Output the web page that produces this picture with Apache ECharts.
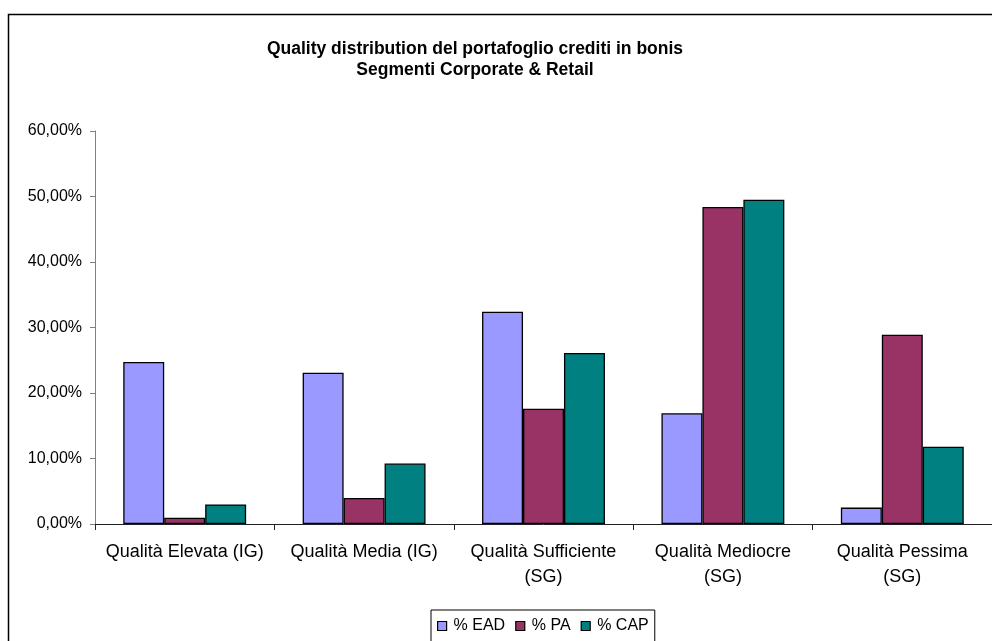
<!DOCTYPE html>
<html>
<head>
<meta charset="utf-8">
<script src="https://cdn.jsdelivr.net/npm/echarts@6/dist/echarts.min.js"></script>
<style>
  html, body { margin: 0; padding: 0; background: #fff; }
  #chart { width: 992px; height: 641px; }
</style>
</head>
<body>
<div id="chart"></div>
<script>
// categorie (asse x)
var categories = [
  'Qualità Elevata (IG)',
  'Qualità Media (IG)',
  'Qualità Sufficiente\n(SG)',
  'Qualità Mediocre\n(SG)',
  'Qualità Pessima\n(SG)'
];
var seriesNames = ['% EAD', '% PA', '% CAP'];
// valori in percentuale
var ead = [24.74, 23.1, 32.4, 16.9, 2.5];
var pa  = [0.96, 3.96, 17.6, 48.4, 28.9];
var cap = [2.99, 9.24, 26.1, 49.5, 11.8];
var yTicks = [0, 10, 20, 30, 40, 50, 60];

var colors = ['#9999FF', '#993366', '#008080'];
var font = 'Liberation Sans, Arial, sans-serif';

var chart = echarts.init(document.getElementById('chart'));

function pct(v) {
  return v.toFixed(2).replace('.', ',') + '%';
}

var option = {
  animation: false,
  backgroundColor: '#fff',
  title: {
    text: 'Quality distribution del portafoglio crediti in bonis\nSegmenti Corporate & Retail',
    left: 470,
    top: 34,
    textAlign: 'center',
    textStyle: {
      fontFamily: font,
      fontSize: 17.5,
      fontWeight: 'bold',
      color: '#000',
      lineHeight: 21
    }
  },
  graphic: [{
    type: 'rect',
    shape: { x: 8.5, y: 14.5, width: 1200, height: 800 },
    style: { fill: 'none', stroke: '#000', lineWidth: 1.5 },
    silent: true
  }],
  legend: {
    data: seriesNames,
    left: 431,
    top: 610,
    padding: [8, 6, 10, 6],
    borderColor: '#000',
    borderWidth: 1,
    itemWidth: 9,
    itemHeight: 9,
    itemGap: 10,
    icon: 'rect',
    itemStyle: { borderColor: '#000', borderWidth: 1.2 },
    textStyle: { fontFamily: font, fontSize: 16, color: '#000', padding: [0, 0, 0, 2] }
  },
  grid: {
    left: 95,
    top: 131,
    width: 897,
    bottom: 117,
    containLabel: false
  },
  xAxis: {
    type: 'category',
    data: categories,
    axisLine: { lineStyle: { color: '#222', width: 1 } },
    axisTick: { show: true, length: 6, alignWithLabel: false, lineStyle: { color: '#222' } },
    axisLabel: {
      interval: 0,
      margin: 16,
      fontFamily: font,
      fontSize: 18,
      lineHeight: 25,
      color: '#000'
    },
    splitLine: { show: false }
  },
  yAxis: {
    type: 'value',
    min: yTicks[0],
    max: yTicks[yTicks.length - 1],
    interval: 10,
    axisLine: { show: true, lineStyle: { color: '#808080', width: 1 } },
    axisTick: { show: true, length: 5, lineStyle: { color: '#808080' } },
    axisLabel: {
      margin: 13,
      fontFamily: font,
      fontSize: 16,
      color: '#000',
      formatter: pct
    },
    splitLine: { show: false }
  },
  series: [ead, pa, cap].map(function (d, i) {
    return {
      name: seriesNames[i],
      type: 'bar',
      data: d,
      barGap: '0%',
      barCategoryGap: '31.5%',
      itemStyle: { color: colors[i], borderColor: '#000', borderWidth: 1.3 }
    };
  })
};

chart.setOption(option);
</script>
</body>
</html>
